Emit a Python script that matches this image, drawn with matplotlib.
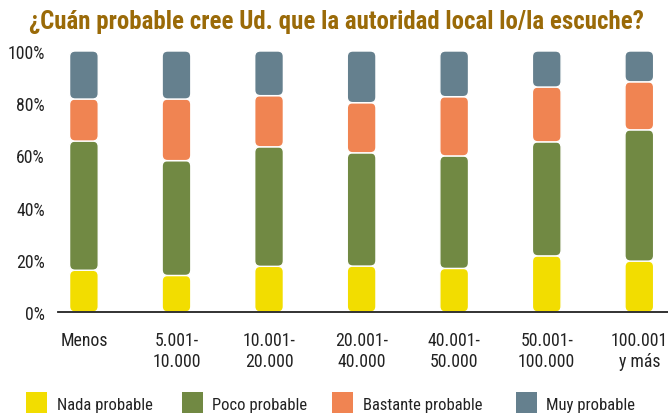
import matplotlib
matplotlib.use("Agg")
import matplotlib.pyplot as plt
from matplotlib import font_manager as fm
from matplotlib.patches import FancyBboxPatch, Rectangle

# ---- data ----
categories = ["Menos", "5.001-\n10.000", "10.001-\n20.000", "20.001-\n40.000",
              "40.001-\n50.000", "50.001-\n100.000", "100.001\ny más"]
series_names = ["Nada probable", "Poco probable", "Bastante probable", "Muy probable"]
nada = [16.0, 14.0, 17.5, 17.6, 16.7, 21.5, 19.5]
poco = [49.5, 44.0, 45.8, 43.4, 43.1, 43.7, 50.3]
bastante = [16.1, 23.6, 19.6, 19.2, 22.7, 21.0, 18.4]
muy = [18.4, 18.4, 17.1, 19.8, 17.5, 13.8, 11.8]
yticks = [0, 20, 40, 60, 80, 100]
ytick_labels = ["0%", "20%", "40%", "60%", "80%", "100%"]
title = "¿Cuán probable cree Ud. que la autoridad local lo/la escuche?"

colors = ["#F2DD00", "#718943", "#F08452", "#65808E"]
title_color = "#9A6A08"

# ---- font selection: prefer a condensed family ----
def find_font(bold=False):
    cands = []
    for f in fm.fontManager.ttflist:
        n = f.name.lower()
        st = str(f.stretch).lower()
        cond = ("narrow" in n or "condensed" in n or "condensed" in st
                or "narrow" in st or "condensed" in f.fname.lower())
        if not cond:
            continue
        w = f.weight if isinstance(f.weight, int) else (700 if "bold" in str(f.weight) else 400)
        isbold = w >= 600
        if isbold != bold:
            continue
        if f.style != "normal":
            continue
        pri = 5
        if "liberation" in n: pri = 0
        elif "roboto" in n: pri = 1
        elif "open sans" in n: pri = 2
        elif "dejavu" in n: pri = 3
        cands.append((pri, f.fname))
    cands.sort()
    return cands[0][1] if cands else None

reg_path = find_font(False)
bold_path = find_font(True)

def fp(size, bold=False):
    path = bold_path if bold else reg_path
    if path:
        return fm.FontProperties(fname=path, size=size)
    return fm.FontProperties(family="DejaVu Sans", size=size,
                             weight="bold" if bold else "normal")

cond = reg_path is not None
s_tick = 12.8 if cond else 10.5
s_leg = 12.0 if cond else 10.0
s_title = 17.9 if cond else 13.2

W, H = 668, 414
fig = plt.figure(figsize=(W / 100, H / 100), dpi=100)
ax = fig.add_axes([58 / W, 101 / H, 1 - 58 / W, (313 - 52) / H])

x = list(range(len(categories)))
width = 0.31
ax.set_xlim(-0.28, 6.31)
ax.set_ylim(0, 100)

fig.canvas.draw()
px_x = ax.transData.transform((1, 0))[0] - ax.transData.transform((0, 0))[0]
px_y = ax.transData.transform((0, 1))[1] - ax.transData.transform((0, 0))[1]
aspect = px_x / px_y

bottom = [0.0] * len(x)
for vals, col in zip([nada, poco, bastante, muy], colors):
    bars = ax.bar(x, vals, width=width, bottom=bottom, color=col)
    for r in bars.patches:
        r.set_visible(False)
        fb = FancyBboxPatch((r.get_x(), r.get_y()), r.get_width(), r.get_height(),
                            boxstyle="round,pad=0,rounding_size=0.06",
                            mutation_aspect=aspect, facecolor=col,
                            edgecolor="white", linewidth=1.0, clip_on=False)
        ax.add_patch(fb)
    bottom = [b + v for b, v in zip(bottom, vals)]

for s in ["top", "right", "left"]:
    ax.spines[s].set_visible(False)
ax.spines["bottom"].set_color("#222222")
ax.spines["bottom"].set_linewidth(1.3)

ax.set_yticks(yticks)
ax.set_yticklabels(ytick_labels, fontproperties=fp(s_tick))
ax.tick_params(axis="y", length=0, pad=9.4, colors="#222222")
ax.set_xticks(x)
ax.set_xticklabels(categories, fontproperties=fp(s_tick), linespacing=1.2)
ax.tick_params(axis="x", length=0, pad=14, colors="#222222")

fig.text(29 / W, 1 - 22 / H, title, color=title_color, fontproperties=fp(s_title, True),
         ha="left", va="center")

# legend
leg_items = [(26, 57), (182, 212), (332, 363), (516, 546)]
for (sx, tx), name, col in zip(leg_items, series_names, colors):
    fig.patches.append(Rectangle((sx / W, 0), 21 / W, 21 / H, transform=fig.transFigure,
                                 facecolor=col, edgecolor="none"))
    fig.text(tx / W, 8 / H, name, fontproperties=fp(s_leg), color="#222222",
             ha="left", va="center")

fig.savefig("out.png", dpi=100)
